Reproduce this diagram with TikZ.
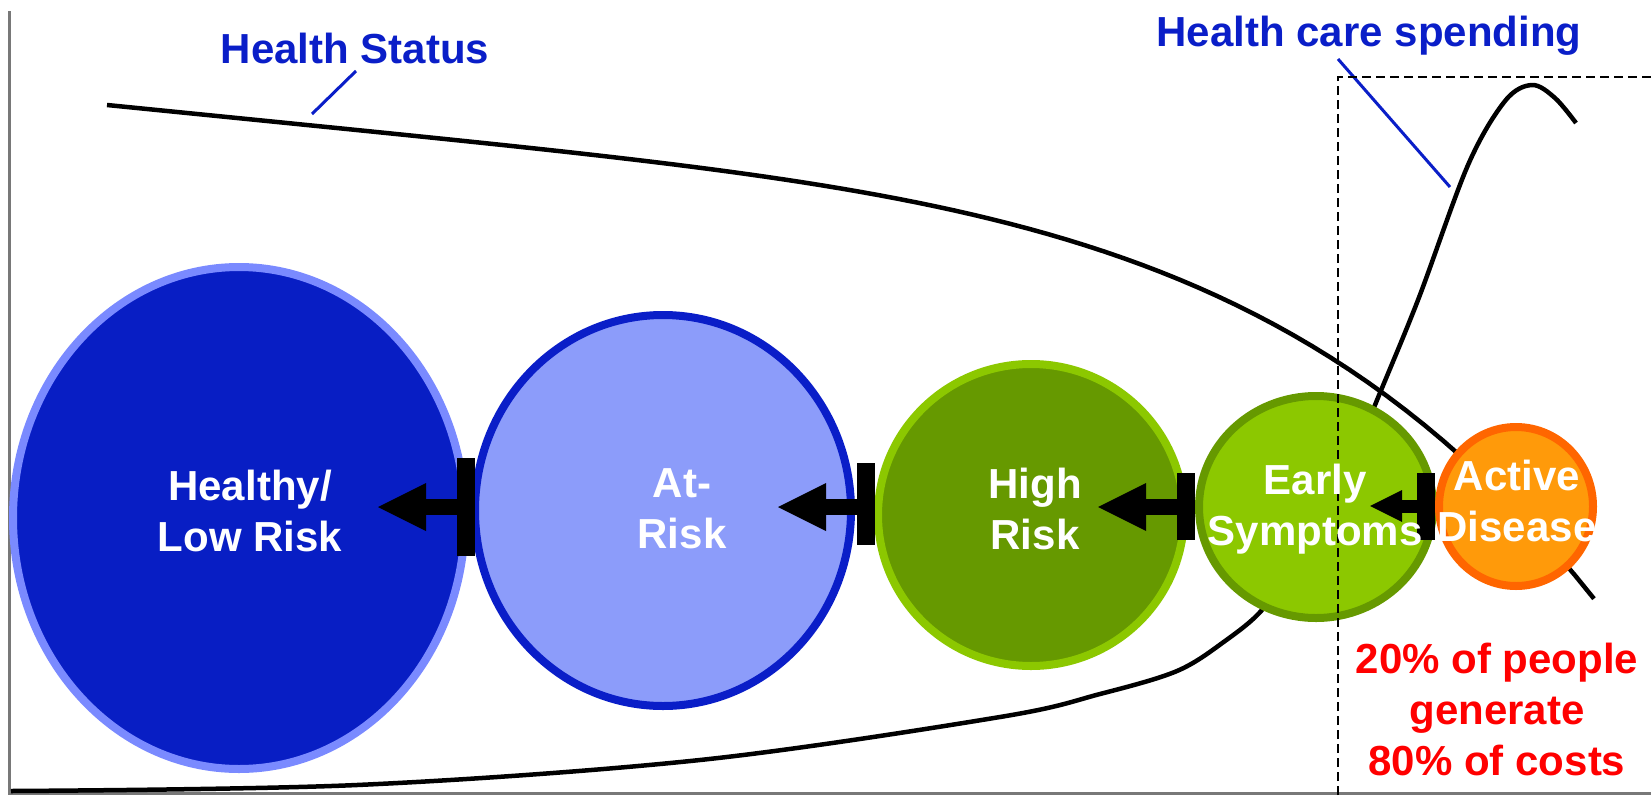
\documentclass[tikz,border=0pt]{standalone}
\usepackage{fontspec}
\setmainfont{Liberation Sans}
\usetikzlibrary{shapes.geometric,arrows.meta}

\definecolor{txtblue}{RGB}{10,30,200}
\definecolor{deepblue}{RGB}{8,30,196}
\definecolor{paleblue}{RGB}{122,138,255}
\definecolor{softblue}{RGB}{140,156,250}
\definecolor{darkgreen}{RGB}{102,153,0}
\definecolor{limegreen}{RGB}{140,200,0}
\definecolor{amber}{RGB}{255,154,10}
\definecolor{flame}{RGB}{255,102,0}
\definecolor{axisgray}{RGB}{120,120,120}

\begin{document}
\begin{tikzpicture}[x=1pt, y=-1pt,
  axis/.style={draw=axisgray, line width=3pt},
  curve/.style={draw=black, line width=4.5pt, line join=round},
  leader/.style={draw=txtblue, line width=3pt},
  stage/.style={ellipse, inner sep=0pt, line width=8pt},
  blocker/.style={rectangle, fill=black, inner sep=0pt, minimum width=18pt},
  push/.style={draw=black, line width=16pt, -{Triangle[length=48pt, width=48pt, line width=0pt]}},
  pushsmall/.style={draw=black, line width=13pt, -{Triangle[length=32pt, width=32pt, line width=0pt]}},
  stagelabel/.style={text=white, font=\bfseries\fontsize{42}{51}\selectfont, align=center, inner sep=0pt},
  bluelabel/.style={text=txtblue, font=\bfseries\fontsize{42}{51}\selectfont, inner sep=0pt, anchor=base},
  redlabel/.style={text=red, font=\bfseries\fontsize{42}{51}\selectfont, align=center, inner sep=0pt},
  boxline/.style={draw=black, line width=2pt, dash pattern=on 9pt off 5pt}
]
\useasboundingbox (0,0) rectangle (1651,795);

% axes
\draw[axis] (9.5,11) -- (9.5,793.5) -- (1651,793.5);

% health status curve: slow decline that steepens towards the right
\draw[curve] plot[domain=0:1, samples=80, variable=\t]
  ({107+1488*\t}, {105+148.8*\t+346.2*\t^5});

% health care spending curve, lower branch (ends behind the early-symptoms stage)
\draw[curve] plot[smooth, tension=0.55] coordinates {(11,791) (357,785) (700,760) (1000,717) (1100,694) (1177,671) (1225,641) (1262,610) (1292,565)};
% upper branch (starts behind the early-symptoms stage)
\draw[curve] plot[smooth, tension=0.55] coordinates {(1345,480) (1375,405) (1418,300) (1468,165) (1505,101) (1532,85) (1555,98) (1576,123)};

% curve labels and their leader lines
\node[bluelabel] (status) at (355,63) {Health Status};
\node[bluelabel] (spending) at (1369,46) {Health care spending};
\coordinate (statusA) at (356,71);
\coordinate (statusB) at (312,114);
\coordinate (spendA) at (1338,59);
\coordinate (spendB) at (1450,187);
\draw[leader] (statusA) -- (statusB);
\draw[leader] (spendA) -- (spendB);

% stages
\node[stage, draw=paleblue, fill=deepblue, minimum width=452pt, minimum height=502pt] (healthy) at (239,518) {};
\node[stage, draw=txtblue, fill=softblue, minimum width=376pt, minimum height=391pt] (atrisk) at (663,510.5) {};
\node[stage, draw=limegreen, fill=darkgreen, minimum width=306pt, minimum height=302pt] (highrisk) at (1031,515) {};
\node[stage, draw=darkgreen, fill=limegreen, minimum width=234pt, minimum height=222pt] (early) at (1316,507) {};
\node[stage, draw=flame, fill=amber, minimum width=154pt, minimum height=159pt] (active) at (1516,506.5) {};

% high-cost region
\draw[boxline] (1338,795) -- (1338,77) -- (1651,77);

% blockers and arrows between stages
\node[blocker, minimum height=98pt] (bar1) at (466,507) {};
\node[blocker, minimum height=82pt] (bar2) at (866,504) {};
\node[blocker, minimum height=67pt] (bar3) at (1186,506.5) {};
\node[blocker, minimum height=67pt] (bar4) at (1426,506.5) {};
\coordinate (tip1) at (378,507);
\coordinate (tip2) at (778,507);
\coordinate (tip3) at (1098,507);
\coordinate (tip4) at (1370,506);
\draw[push] (tip1 -| bar1.west) -- (tip1);
\draw[push] (tip2 -| bar2.west) -- (tip2);
\draw[push] (tip3 -| bar3.west) -- (tip3);
\draw[pushsmall] (tip4 -| bar4.west) -- (tip4);

% stage labels
\node[stagelabel] (lhealthy) at (250,511) {Healthy/\\Low Risk};
\node[stagelabel] (latrisk) at (682,509) {At-\\Risk};
\node[stagelabel] (lhigh) at (1035,509) {High\\Risk};
\node[stagelabel] (learly) at (1315,509) {Early\\Symptoms};
\node[stagelabel] (lactive) at (1517,501) {Active\\Disease};

% cost note
\node[redlabel] (note) at (1497,709) {20\% of people\\generate\\80\% of costs};
\end{tikzpicture}
\end{document}
